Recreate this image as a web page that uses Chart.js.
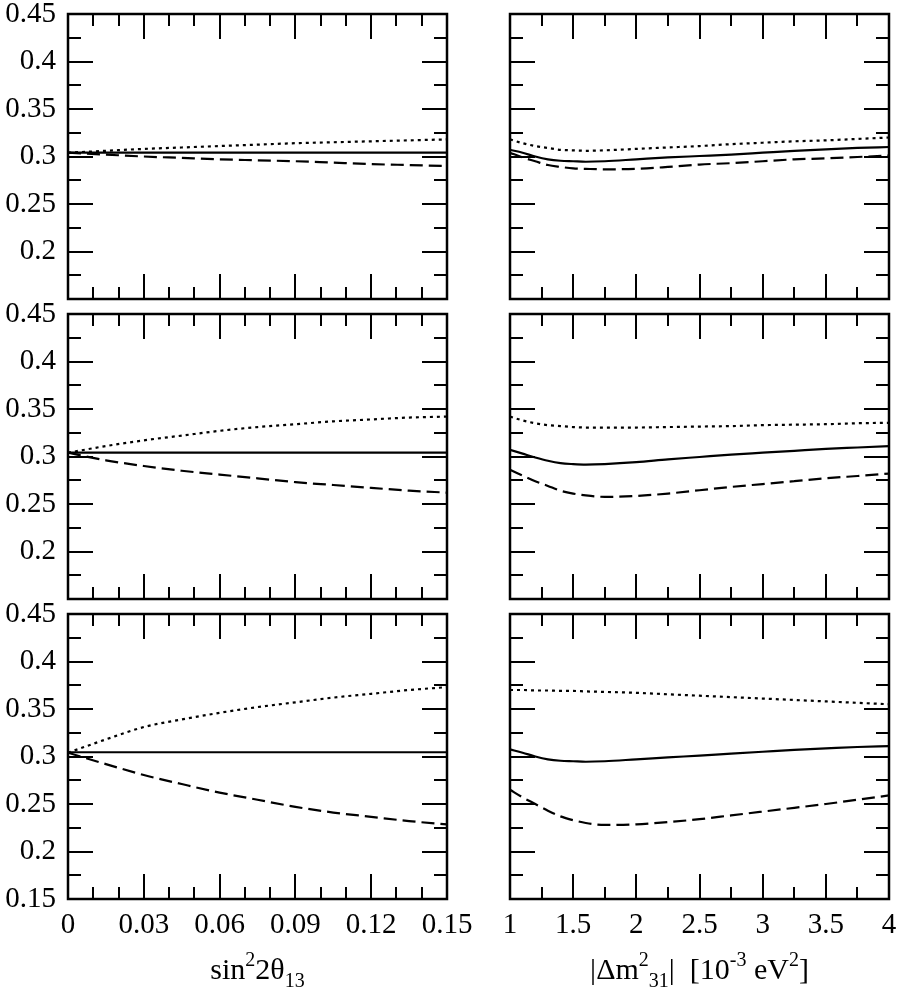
<!DOCTYPE html>
<html>
<head>
<meta charset="utf-8">
<script src="https://cdn.jsdelivr.net/npm/chart.js@4"></script>
<style>
  body { margin: 0; background: #fff; width: 901px; height: 992px; overflow: hidden; position: relative; }
  canvas { position: absolute; }
</style>
</head>
<body>
<script>
// x values
const xTheta = [0, 0.015, 0.03, 0.045, 0.06, 0.075, 0.09, 0.105, 0.12, 0.135, 0.15];
const xDm = [1, 1.1, 1.2, 1.3, 1.4, 1.5, 1.6, 1.75, 2, 2.25, 2.5, 2.75, 3, 3.25, 3.5, 3.75, 4];

// left column (vs sin^2 2theta13), rows top to bottom
const th1Solid = [0.304, 0.304, 0.304, 0.304, 0.304, 0.304, 0.304, 0.304, 0.304, 0.304, 0.304];
const th1Dot = [0.304, 0.306, 0.308, 0.3095, 0.311, 0.3125, 0.314, 0.315, 0.316, 0.317, 0.318];
const th1Dash = [0.304, 0.302, 0.300, 0.2985, 0.297, 0.296, 0.295, 0.2935, 0.292, 0.291, 0.290];

const th2Solid = [0.304, 0.304, 0.304, 0.304, 0.304, 0.304, 0.304, 0.304, 0.304, 0.304, 0.304];
const th2Dot = [0.304, 0.311, 0.317, 0.322, 0.327, 0.331, 0.334, 0.337, 0.339, 0.341, 0.342];
const th2Dash = [0.304, 0.296, 0.290, 0.285, 0.281, 0.277, 0.273, 0.270, 0.267, 0.264, 0.262];

const th3Solid = [0.3045, 0.3045, 0.3045, 0.3045, 0.3045, 0.3045, 0.3045, 0.3045, 0.3045, 0.3045, 0.3045];
const th3Dot = [0.304, 0.318, 0.331, 0.339, 0.346, 0.352, 0.357, 0.362, 0.366, 0.370, 0.373];
const th3Dash = [0.304, 0.292, 0.2805, 0.271, 0.262, 0.2545, 0.247, 0.241, 0.2365, 0.232, 0.2285];

// right column (vs |dm^2_31|)
const dm1Solid = [0.307, 0.304, 0.300, 0.297, 0.2955, 0.295, 0.2945, 0.295, 0.297, 0.299, 0.3005, 0.302, 0.304, 0.306, 0.3075, 0.309, 0.310];
const dm1Dash = [0.304, 0.299, 0.295, 0.291, 0.289, 0.2875, 0.287, 0.2865, 0.287, 0.289, 0.2915, 0.293, 0.295, 0.297, 0.298, 0.2995, 0.301];
const dm1Dot = [0.318, 0.314, 0.311, 0.309, 0.307, 0.3065, 0.306, 0.3065, 0.308, 0.3095, 0.311, 0.313, 0.3145, 0.316, 0.317, 0.3185, 0.320];

const dm2Solid = [0.307, 0.303, 0.299, 0.2955, 0.293, 0.292, 0.2915, 0.292, 0.294, 0.297, 0.2995, 0.302, 0.304, 0.306, 0.308, 0.3095, 0.311];
const dm2Dash = [0.286, 0.280, 0.274, 0.269, 0.264, 0.261, 0.259, 0.2575, 0.2585, 0.261, 0.2645, 0.268, 0.271, 0.274, 0.277, 0.2795, 0.282];
const dm2Dot = [0.342, 0.338, 0.335, 0.333, 0.332, 0.331, 0.3305, 0.3305, 0.3305, 0.331, 0.3315, 0.332, 0.333, 0.3335, 0.334, 0.335, 0.3355];

const dm3Solid = [0.3075, 0.304, 0.300, 0.297, 0.2955, 0.295, 0.2945, 0.295, 0.297, 0.299, 0.301, 0.303, 0.305, 0.307, 0.3085, 0.310, 0.311];
const dm3Dash = [0.265, 0.257, 0.250, 0.243, 0.237, 0.233, 0.230, 0.228, 0.2285, 0.231, 0.234, 0.238, 0.242, 0.246, 0.250, 0.2545, 0.259];
const dm3Dot = [0.370, 0.370, 0.3695, 0.3695, 0.369, 0.369, 0.3685, 0.368, 0.367, 0.3655, 0.364, 0.3625, 0.361, 0.3595, 0.358, 0.3565, 0.355];

// ticks
const thetaMajor = [0, 0.03, 0.06, 0.09, 0.12, 0.15];
const thetaMinor = [0.01, 0.02, 0.04, 0.05, 0.07, 0.08, 0.10, 0.11, 0.13, 0.14];
const dmMajor = [1, 1.5, 2, 2.5, 3, 3.5, 4];
const dmMinor = [1.25, 1.75, 2.25, 2.75, 3.25, 3.75];
const yMajor = [0.15, 0.2, 0.25, 0.3, 0.35, 0.4, 0.45];
const yMinor = [0.175, 0.225, 0.275, 0.325, 0.375, 0.425];
const yLabelsTop = [0.2, 0.25, 0.3, 0.35, 0.4, 0.45];
const yLabelsBottom = [0.15, 0.2, 0.25, 0.3, 0.35, 0.4, 0.45];

const thetaTitle = [['sin', 0], ['2', -1], ['2\u03b8', 0], ['13', 1]];
const dmTitle = [['|\u0394m', 0], ['2', -1], ['31', 1], ['|  [10', 0], ['-3', -1], [' eV', 0], ['2', -1], [']', 0]];

const FONT = "'Liberation Serif', 'Times New Roman', serif";
const PLOT_W = 379, PLOT_H = 285;
const rowTops = [14, 314, 614];

const frameTicks = {
  id: 'frameTicks',
  afterDraw(chart, args, o) {
    const { ctx, chartArea: a, scales: { x, y } } = chart;
    ctx.save();
    ctx.strokeStyle = '#000';
    ctx.lineWidth = 2;
    ctx.beginPath();
    const xt = (vals, len) => vals.forEach(v => {
      const px = Math.round(x.getPixelForValue(v));
      ctx.moveTo(px, a.bottom); ctx.lineTo(px, a.bottom - len);
      ctx.moveTo(px, a.top); ctx.lineTo(px, a.top + len);
    });
    const yt = (vals, len) => vals.forEach(v => {
      const py = Math.round(y.getPixelForValue(v));
      ctx.moveTo(a.left, py); ctx.lineTo(a.left + len, py);
      ctx.moveTo(a.right, py); ctx.lineTo(a.right - len, py);
    });
    xt(o.xMajor, 25); xt(o.xMinor, 12);
    yt(yMajor, 25); yt(yMinor, 13);
    ctx.stroke();
    ctx.lineWidth = 2.5;
    ctx.strokeRect(a.left, a.top, a.width, a.height);

    if (o.title) {
      const big = 30, small = 20;
      let w = 0;
      o.title.forEach(([t, s]) => {
        ctx.font = (s ? small : big) + 'px ' + FONT;
        w += ctx.measureText(t).width;
      });
      let cx = (a.left + a.right) / 2 - w / 2;
      const base = a.bottom + 80;
      ctx.fillStyle = '#000';
      ctx.textBaseline = 'alphabetic';
      ctx.textAlign = 'left';
      o.title.forEach(([t, s]) => {
        ctx.font = (s ? small : big) + 'px ' + FONT;
        ctx.fillText(t, cx, base + (s < 0 ? -13 : s > 0 ? 8 : 0));
        cx += ctx.measureText(t).width;
      });
    }
    ctx.restore();
  }
};

function line(xs, ys, dash) {
  return {
    data: xs.map((v, i) => ({ x: v, y: ys[i] })),
    borderColor: '#000',
    borderWidth: 2.2,
    borderDash: dash,
    pointRadius: 0,
    fill: false,
    cubicInterpolationMode: 'monotone'
  };
}

function panel(row, col, xs, solid, dash, dot) {
  const left = col === 0;
  const bottom = row === 2;
  const yW = left ? 68 : 20;
  const plotLeft = left ? 68 : 510;
  const xH = bottom ? 95 : 40;
  const cv = document.createElement('canvas');
  cv.width = yW + PLOT_W + 40;
  cv.height = 40 + PLOT_H + xH;
  cv.style.left = (plotLeft - yW) + 'px';
  cv.style.top = (rowTops[row] - 40) + 'px';
  document.body.appendChild(cv);

  const xMajor = left ? thetaMajor : dmMajor;
  const yLabels = bottom ? yLabelsBottom : yLabelsTop;

  new Chart(cv.getContext('2d'), {
    type: 'line',
    data: { datasets: [line(xs, solid, []), line(xs, dash, [13, 6]), line(xs, dot, [3, 4])] },
    options: {
      responsive: false,
      animation: false,
      devicePixelRatio: 1,
      layout: { padding: { top: 40, right: 40, left: 0, bottom: 0 } },
      plugins: {
        legend: { display: false },
        tooltip: { enabled: false },
        frameTicks: {
          xMajor: xMajor,
          xMinor: left ? thetaMinor : dmMinor,
          title: bottom ? (left ? thetaTitle : dmTitle) : null
        }
      },
      scales: {
        x: {
          type: 'linear',
          min: xs[0],
          max: xs[xs.length - 1],
          grid: { display: false, drawTicks: false },
          border: { display: false },
          afterBuildTicks: s => { s.ticks = xMajor.map(v => ({ value: v })); },
          afterFit: s => { s.height = xH; },
          ticks: {
            display: bottom,
            maxRotation: 0,
            autoSkip: false,
            padding: 9,
            color: '#000',
            font: { family: FONT, size: 29 },
            callback: v => left ? (v === 0 ? '0' : v.toFixed(2)) : String(v)
          }
        },
        y: {
          type: 'linear',
          min: 0.15,
          max: 0.45,
          grid: { display: false, drawTicks: false },
          border: { display: false },
          afterBuildTicks: s => { s.ticks = yLabels.map(v => ({ value: v })); },
          afterFit: s => { s.width = yW; },
          ticks: {
            display: left,
            padding: 12,
            color: '#000',
            font: { family: FONT, size: 29 },
            callback: v => String(parseFloat(v.toFixed(3)))
          }
        }
      }
    },
    plugins: [frameTicks]
  });
}

panel(0, 0, xTheta, th1Solid, th1Dash, th1Dot);
panel(0, 1, xDm, dm1Solid, dm1Dash, dm1Dot);
panel(1, 0, xTheta, th2Solid, th2Dash, th2Dot);
panel(1, 1, xDm, dm2Solid, dm2Dash, dm2Dot);
panel(2, 0, xTheta, th3Solid, th3Dash, th3Dot);
panel(2, 1, xDm, dm3Solid, dm3Dash, dm3Dot);
</script>
</body>
</html>
